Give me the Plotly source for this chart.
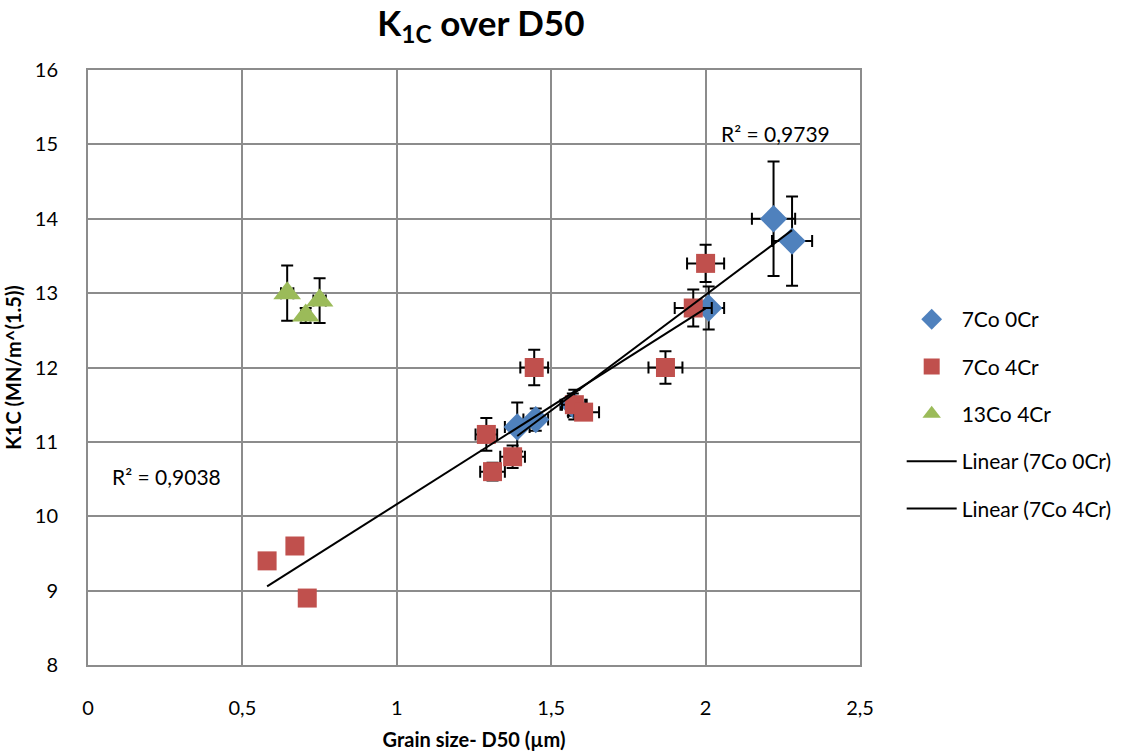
import numpy as np
import plotly.graph_objects as go

# 7Co 0Cr
x_0cr = [1.39, 1.45, 1.57, 2.01, 2.22, 2.28]
y_0cr = [11.2, 11.3, 11.5, 12.8, 14.0, 13.7]
ex_0cr = [0.04, 0.04, 0.04, 0.05, 0.07, 0.065]
ey_0cr = [0.33, 0.15, 0.15, 0.29, 0.77, 0.6]

# 7Co 4Cr
x_4cr = [0.58, 0.67, 0.71, 1.29, 1.31, 1.375, 1.445, 1.575, 1.605, 1.87, 1.96, 2.0]
y_4cr = [9.4, 9.6, 8.9, 11.1, 10.6, 10.8, 12.0, 11.5, 11.4, 12.0, 12.8, 13.4]
ex_4cr = [0, 0, 0, 0.035, 0.04, 0.04, 0.045, 0.04, 0.05, 0.055, 0.06, 0.06]
ey_4cr = [0, 0, 0, 0.22, 0.12, 0.15, 0.24, 0.2, 0.1, 0.22, 0.25, 0.25]

# 13Co 4Cr
x_13co = [0.645, 0.705, 0.75]
y_13co = [13.0, 12.7, 12.9]
ex_13co = [0.02, 0.015, 0.02]
ey_13co = [0.37, 0.1, 0.3]

r2_labels = ["R² = 0,9739", "R² = 0,9038"]

BLUE = "#4F81BD"
RED = "#C0504D"
GREEN = "#9BBB59"
FONT = "Lato, 'Liberation Sans', sans-serif"

fig = go.Figure()

def err(arr):
    return dict(type="data", array=arr, visible=True, color="black", thickness=2, width=6)

fig.add_trace(go.Scatter(x=x_0cr, y=y_0cr, mode="markers", name="7Co 0Cr",
                         marker=dict(symbol="diamond", size=21, color=BLUE),
                         error_x=err(ex_0cr), error_y=err(ey_0cr), legendgroup="a"))
fig.add_trace(go.Scatter(x=x_4cr, y=y_4cr, mode="markers", name="7Co 4Cr",
                         marker=dict(symbol="square", size=19, color=RED),
                         error_x=err(ex_4cr), error_y=err(ey_4cr), legendgroup="b"))
fig.add_trace(go.Scatter(x=x_13co, y=y_13co, mode="markers", name="13Co 4Cr",
                         marker=dict(symbol="triangle-up", size=24, color=GREEN),
                         error_x=err(ex_13co), error_y=err(ey_13co), legendgroup="c"))

# linear trend lines
for xs, ys, nm, g in [(x_0cr, y_0cr, "Linear (7Co 0Cr)", "d"), (x_4cr, y_4cr, "Linear (7Co 4Cr)", "e")]:
    k, b = np.polyfit(xs, ys, 1)
    xx = np.array([min(xs), max(xs)])
    fig.add_trace(go.Scatter(x=xx, y=k * xx + b, mode="lines", name=nm,
                             line=dict(color="black", width=2), legendgroup=g))

fig.add_annotation(x=2.225, y=15.15, text=r2_labels[0], showarrow=False,
                   font=dict(size=21, color="black"))
fig.add_annotation(x=0.255, y=10.54, text=r2_labels[1], showarrow=False,
                   font=dict(size=21, color="black"))

fig.update_layout(
    width=1145, height=751,
    margin=dict(l=88, r=285, t=70, b=86),
    paper_bgcolor="white", plot_bgcolor="white",
    separators=", ",
    font=dict(family=FONT, size=20, color="black"),
    title=dict(text="<b>K<sub>1C</sub> over D50</b>", x=0.42, xanchor="center",
               y=0.985, yanchor="top", font=dict(size=35)),
    showlegend=True,
    legend=dict(x=1.054, xanchor="left", y=0.615, yanchor="top",
                font=dict(size=21), tracegroupgap=17, traceorder="grouped",
                itemwidth=50, bgcolor="rgba(0,0,0,0)"),
    xaxis=dict(range=[0, 2.5], dtick=0.5, showgrid=True, gridcolor="#8c8c8c", gridwidth=2,
               showline=True, linecolor="#8c8c8c", linewidth=2, mirror=True,
               zeroline=False, ticks="", ticklabelstandoff=24, automargin=False,
               title=dict(text="<b>Grain size- D50 (µm)</b>", font=dict(size=20), standoff=16)),
    yaxis=dict(range=[8, 16], dtick=1, showgrid=True, gridcolor="#8c8c8c", gridwidth=2,
               showline=True, linecolor="#8c8c8c", linewidth=2, mirror=True,
               zeroline=False, ticks="", ticklabelstandoff=24, automargin=False,
               title=dict(text="<b>K1C (MN/m^(1.5))</b>", font=dict(size=20), standoff=8)),
)

fig.write_html("out.html")
